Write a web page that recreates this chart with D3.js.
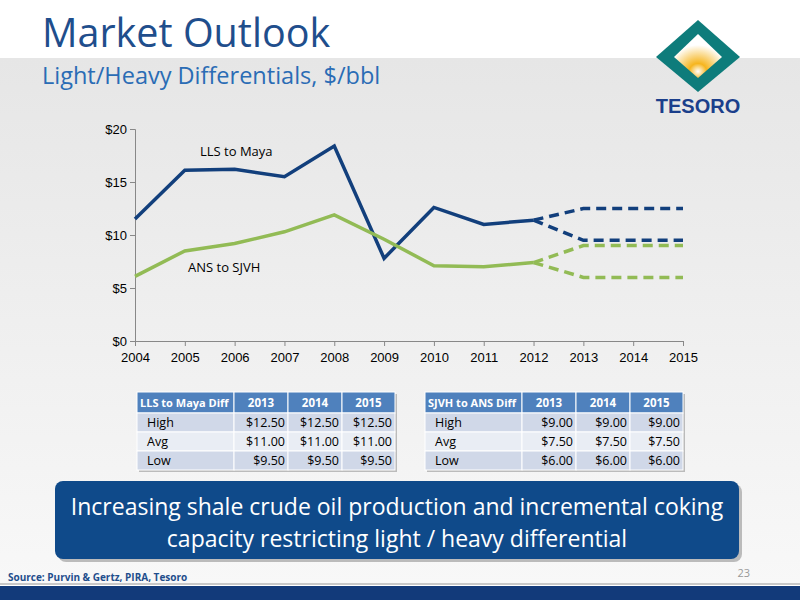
<!DOCTYPE html><html><head><meta charset="utf-8">
<script src="https://d3js.org/d3.v7.min.js"></script>
<style>body{margin:0}svg{font-family:"Open Sans",sans-serif}</style></head><body>
<svg id="c" width="800" height="600"></svg>
<script>
const years=[2004,2005,2006,2007,2008,2009,2010,2011,2012,2013,2014,2015];
const llsHist=[11.5,16.1,16.2,15.5,18.4,7.8,12.6,11.0,11.4];
const ansHist=[6.1,8.5,9.2,10.3,11.9,9.6,7.1,7.0,7.4];
const llsHigh=[11.4,12.5,12.5,12.5], llsLow=[11.4,9.5,9.5,9.5];
const ansHigh=[7.4,9.0,9.0,9.0], ansLow=[7.4,6.0,6.0,6.0];
const yTicks=[0,5,10,15,20];
const tableYears=["2013","2014","2015"];
const rowLabels=["High","Avg","Low"];
const llsTable=[["$12.50","$12.50","$12.50"],["$11.00","$11.00","$11.00"],["$9.50","$9.50","$9.50"]];
const ansTable=[["$9.00","$9.00","$9.00"],["$7.50","$7.50","$7.50"],["$6.00","$6.00","$6.00"]];

const svg=d3.select("#c");
const defs=svg.append("defs");
const g1=defs.append("linearGradient").attr("id","bg").attr("x1",0).attr("y1",0).attr("x2",0).attr("y2",1);
g1.append("stop").attr("offset","0").attr("stop-color","#e6e6e6");
g1.append("stop").attr("offset","1").attr("stop-color","#f8f8f8");
svg.append("rect").attr("width",800).attr("height",600).attr("fill","#fff");
svg.append("rect").attr("y",58).attr("width",800).attr("height",527).attr("fill","url(#bg)");
svg.append("rect").attr("y",586).attr("width",800).attr("height",14).attr("fill","#123a7a");
svg.append("rect").attr("y",583).attr("width",800).attr("height",2).attr("fill","#c8c8c8");
svg.append("text").attr("x",42).attr("y",47).attr("font-size",39.5).attr("fill","#1f4e8c").text("Market Outlook");
svg.append("text").attr("x",42).attr("y",84).attr("font-size",23.5).attr("fill","#2a6cb5").text("Light/Heavy Differentials, $/bbl");
// logo
const lg=svg.append("g");
const rg=defs.append("radialGradient").attr("id","sun").attr("cx","0.5").attr("cy","0.85").attr("r","0.6");
rg.append("stop").attr("offset","0").attr("stop-color","#fff");
rg.append("stop").attr("offset","0.3").attr("stop-color","#f6b51e");
rg.append("stop").attr("offset","1").attr("stop-color","#ffffff");
lg.append("path").attr("d","M698,20 L740,57 L698,92 L656,57Z").attr("fill","#0e7c7b");
lg.append("path").attr("d","M698,34 L722,57 L698,78 L674,57Z").attr("fill","url(#sun)");
lg.append("text").attr("x",698).attr("y",113).attr("text-anchor","middle").attr("font-size",20).attr("font-weight","bold").attr("fill","#1b3f8b").attr("font-family","Liberation Sans").text("TESORO");

const x=d3.scaleLinear().domain([2004,2015]).range([135,683]);
const y=d3.scaleLinear().domain([0,20]).range([341,129]);
const ax=svg.append("g").attr("transform","translate(0,341)").call(d3.axisBottom(x).tickValues(years).tickFormat(d3.format("d")).tickSize(5));
ax.selectAll("text").attr("font-size",13).attr("fill","#000").attr("dy","1em");
ax.select(".domain").attr("stroke","#888");ax.selectAll("line").attr("stroke","#888");
const ay=svg.append("g").attr("transform","translate(135,0)").call(d3.axisLeft(y).tickValues(yTicks).tickFormat(d=>"$"+d).tickSize(5));
ay.selectAll("text").attr("font-size",13).attr("fill","#000");
ay.select(".domain").attr("stroke","#888");ay.selectAll("line").attr("stroke","#888");
const line=d3.line().x(d=>x(d[0])).y(d=>y(d[1]));
const hist=a=>a.map((v,i)=>[years[i],v]);
const fut=a=>a.map((v,i)=>[years[i+8],v]);
const blue="#123f7c",green="#92bb55";
svg.append("path").attr("d",line(hist(llsHist))).attr("fill","none").attr("stroke",blue).attr("stroke-width",3.5);
svg.append("path").attr("d",line(hist(ansHist))).attr("fill","none").attr("stroke",green).attr("stroke-width",3.5);
[[llsHigh,blue],[llsLow,blue],[ansHigh,green],[ansLow,green]].forEach(([a,c])=>
 svg.append("path").attr("d",line(fut(a))).attr("fill","none").attr("stroke",c).attr("stroke-width",3.5).attr("stroke-dasharray","10,6"));
svg.append("text").attr("x",200).attr("y",156).attr("font-size",13).text("LLS to Maya");
svg.append("text").attr("x",188).attr("y",272).attr("font-size",13).text("ANS to SJVH");

function table(x0,title,data){
 const cw=[97,54,54,53],hh=21,rh=19;
 const g=svg.append("g");
 g.append("rect").attr("x",x0+2).attr("y",394).attr("width",258).attr("height",hh+3*rh).attr("fill","#bbb");
 let cx=x0;
 const hdr=[title,...tableYears];
 hdr.forEach((t,i)=>{
  g.append("rect").attr("x",cx).attr("y",392).attr("width",cw[i]).attr("height",hh).attr("fill","#4f81bd").attr("stroke","#fff");
  g.append("text").attr("x",i?cx+cw[i]/2:cx+3).attr("y",407).attr("text-anchor",i?"middle":"start").attr("font-size",i?11.5:11).attr("font-weight","bold").attr("fill","#fff").text(t);
  cx+=cw[i];
 });
 rowLabels.forEach((r,j)=>{
  let cx=x0;const yy=392+hh+j*rh;
  [r,...data[j]].forEach((t,i)=>{
   g.append("rect").attr("x",cx).attr("y",yy).attr("width",cw[i]).attr("height",rh).attr("fill",j%2?"#e9edf4":"#d0d8e8").attr("stroke","#fff");
   g.append("text").attr("x",i?cx+cw[i]-3:cx+10).attr("y",yy+14).attr("text-anchor",i?"end":"start").attr("font-size",12.5).attr("fill","#000").text(t);
   cx+=cw[i];
  });
 });
}
table(137,"LLS to Maya Diff",llsTable);
table(425,"SJVH to ANS Diff",ansTable);

svg.append("rect").attr("x",58).attr("y",484).attr("width",684).attr("height",78).attr("rx",8).attr("fill","#bbb");
svg.append("rect").attr("x",55).attr("y",481).attr("width",684).attr("height",78).attr("rx",8).attr("fill","#0f4a8a");
svg.append("text").attr("x",397).attr("y",515).attr("text-anchor","middle").attr("font-size",23).attr("fill","#fff").text("Increasing shale crude oil production and incremental coking");
svg.append("text").attr("x",397).attr("y",547).attr("text-anchor","middle").attr("font-size",23).attr("fill","#fff").text("capacity restricting light / heavy differential");
svg.append("text").attr("x",8).attr("y",581).attr("font-size",10).attr("font-weight","bold").attr("fill","#1f4e8c").text("Source: Purvin & Gertz, PIRA, Tesoro");
svg.append("text").attr("x",750).attr("y",577).attr("text-anchor","end").attr("font-size",11).attr("fill","#999").text("23");
</script></body></html>
